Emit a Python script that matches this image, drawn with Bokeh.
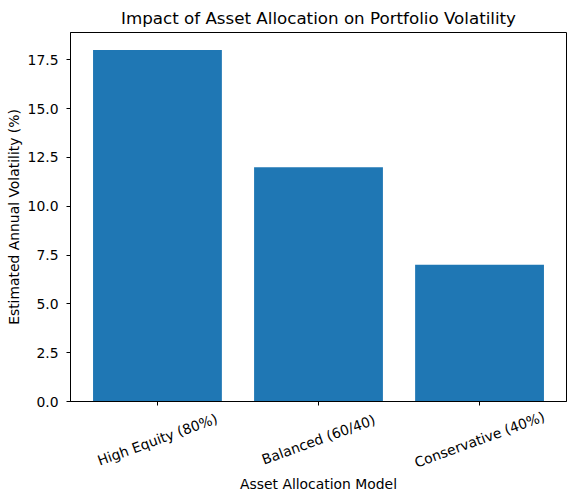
from bokeh.plotting import figure
from bokeh.layouts import column
from bokeh.models import FixedTicker, PrintfTickFormatter, Range1d, CustomLabelingPolicy
from bokeh.core.properties import value
from bokeh.embed import file_html
from bokeh.resources import INLINE

categories = ["High Equity (80%)", "Balanced (60/40)", "Conservative (40%)"]
volatility = [18, 12, 7]
y_ticks = [0, 2.5, 5, 7.5, 10, 12.5, 15, 17.5]
x_title = "Asset Allocation Model"
y_title = "Estimated Annual Volatility (%)"
title = "Impact of Asset Allocation on Portfolio Volatility"

xs = list(range(len(categories)))
FONT = "DejaVu Sans"
FS = "13.9px"
XR = (-0.54, 2.54)

p = figure(frame_width=496, frame_height=369, output_backend="svg", toolbar_location=None,
           x_range=Range1d(*XR), y_range=Range1d(0, 18.9),
           min_border_left=70, min_border_right=4, min_border_top=24, min_border_bottom=8,
           title=title)
p.vbar(x=xs, top=volatility, width=0.8, color="#1f77b4", line_color=None)

p.title.align = "center"
p.title.text_font = FONT
p.title.text_font_size = "16.7px"
p.title.text_font_style = "normal"
p.title.text_color = "black"

p.xgrid.visible = False
p.ygrid.visible = False
p.outline_line_color = "black"
p.outline_line_width = 1
p.outline_line_alpha = 1

p.xaxis.ticker = FixedTicker(ticks=xs)
p.xaxis.major_label_policy = CustomLabelingPolicy(
    code="for (const i of Array.from(indices)) { indices.unset(i) }; return indices")
p.yaxis.ticker = FixedTicker(ticks=y_ticks)
p.yaxis.formatter = PrintfTickFormatter(format="%.1f")
p.yaxis.axis_label = y_title
p.yaxis.major_label_standoff = 8
p.yaxis.axis_label_standoff = 3

for ax in (p.xaxis, p.yaxis):
    ax.minor_tick_line_color = None
    ax.major_tick_in = 0
    ax.major_tick_out = 4
    ax.major_tick_line_color = "black"
    ax.axis_line_color = "black"
    ax.major_label_text_font = FONT
    ax.major_label_text_font_size = FS
    ax.major_label_text_color = "black"
    ax.axis_label_text_font = FONT
    ax.axis_label_text_font_size = FS
    ax.axis_label_text_font_style = "normal"
    ax.axis_label_text_color = "black"
p.xaxis.major_label_text_font_size = "1px"
p.xaxis.major_label_standoff = 0

# lower strip holding the rotated category labels and the x-axis title
H2 = 90
q = figure(frame_width=496, frame_height=H2, output_backend="svg", toolbar_location=None,
           x_range=p.x_range, y_range=Range1d(0, H2),
           min_border_left=70, min_border_right=4, min_border_top=0, min_border_bottom=0)
q.xaxis.visible = False
q.yaxis.visible = False
q.xgrid.visible = False
q.ygrid.visible = False
q.outline_line_color = None
q.text(x=xs, y=[60] * len(xs), text=categories, angle=20, angle_units="deg",
       text_align="center", text_baseline="middle",
       text_font=value(FONT), text_font_size=FS, text_color="black")
q.text(x=[1], y=[16], text=[x_title], text_align="center", text_baseline="middle",
       text_font=value(FONT), text_font_size=FS, text_color="black")

layout = column(p, q, spacing=0)
open("out.html", "w").write(file_html(layout, INLINE))
